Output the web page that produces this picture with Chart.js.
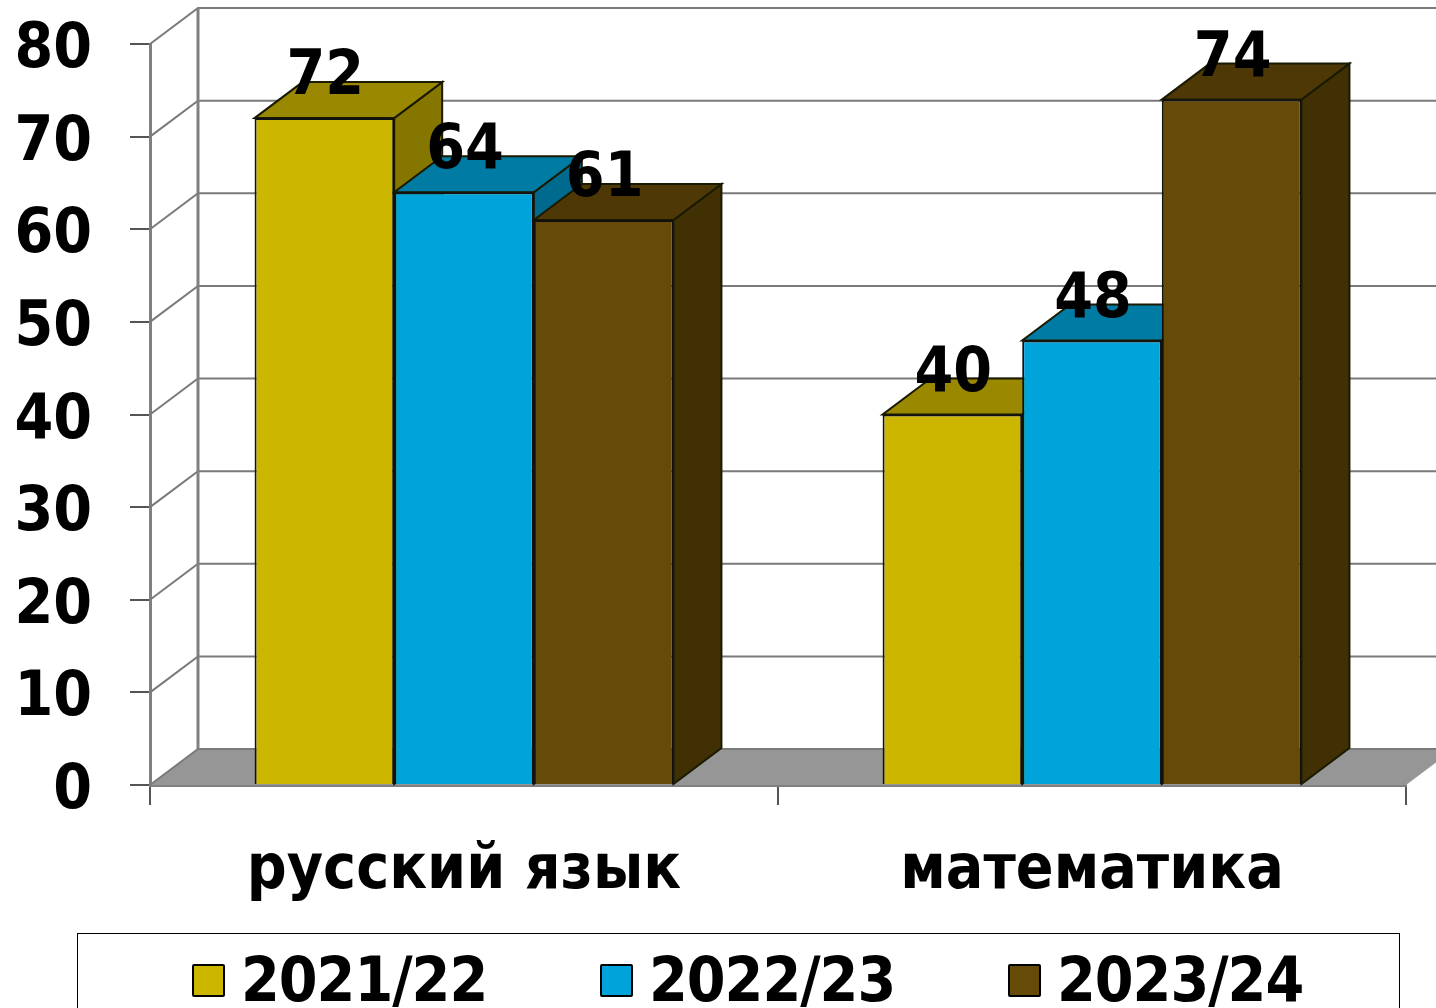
<!DOCTYPE html>
<html lang="ru">
<head>
  <meta charset="UTF-8">
  <title>Результаты по предметам</title>
  <script src="https://cdn.jsdelivr.net/npm/chart.js"></script>
  <style>
    html, body {
      margin: 0;
      height: 100%;
      overflow: hidden;
      background: #fff;
    }

    #wrap {
      position: relative;
      width: 1436px;
      height: 1008px;
      overflow: hidden;
    }

    canvas {
      position: absolute;
      left: 0;
      top: 0;
    }

    /* legend box runs off the bottom edge like in the picture */
    #legend {
      position: absolute;
      left: 77px;
      top: 933px;
      width: 1321px;
      height: 120px;
      border: 1px solid #000;
      font: bold 62px "DejaVu Sans Condensed", "DejaVu Sans", sans-serif;
      letter-spacing: -1px;
      color: #000;
    }

    .item {
      position: absolute;
      top: 11px;
      display: flex;
      align-items: center;
      line-height: 70px;
      white-space: nowrap;
    }

    .swatch {
      width: 29px;
      height: 29px;
      border: 2px solid #000;
      border-radius: 2px;
      margin-right: 16px;
    }
  </style>
</head>
<body>
  <div id="wrap">
    <canvas id="chart" width="1436" height="1008"></canvas>
    <div id="legend"></div>
  </div>

  <script>
    const categories = ['русский язык', 'математика'];
    const seriesNames = ['2021/22', '2022/23', '2023/24'];
    const values2122 = [72, 40];
    const values2223 = [64, 48];
    const values2324 = [61, 74];

    // front, top and side colours of each series
    const frontColors = ['#CDB600', '#00A3DA', '#664A08'];
    const topColors = ['#9A8900', '#007BA4', '#4D3806'];
    const sideColors = ['#857600', '#006A8E', '#423005'];

    const depthX = 48;
    const depthY = 36;
    const fontName = '"DejaVu Sans Condensed", "DejaVu Sans", sans-serif';

    function poly(ctx, pts, fill, stroke, lineWidth) {
      ctx.beginPath();
      pts.forEach((p, i) => i ? ctx.lineTo(p[0], p[1]) : ctx.moveTo(p[0], p[1]));
      ctx.closePath();
      if (fill) {
        ctx.fillStyle = fill;
        ctx.fill();
      }
      if (stroke) {
        ctx.strokeStyle = stroke;
        ctx.lineWidth = lineWidth;
        ctx.stroke();
      }
    }

    // back wall, side wall, floor and the depth faces of the bars
    const box3d = {
      id: 'box3d',
      beforeDatasetsDraw(chart) {
        const { ctx, chartArea, scales } = chart;
        const left = chartArea.left, right = chartArea.right, bottom = chartArea.bottom;
        const backTop = chartArea.top - depthY;
        ctx.save();

        // floor
        poly(ctx, [[left, bottom], [right, bottom], [right + depthX, bottom - depthY], [left + depthX, bottom - depthY]], '#969696');

        // grid on the walls
        ctx.strokeStyle = '#7A7A7A';
        ctx.lineWidth = 2;
        scales.y.ticks.forEach(t => {
          const y = scales.y.getPixelForValue(t.value);
          ctx.beginPath();
          ctx.moveTo(left, y);
          ctx.lineTo(left + depthX, y - depthY);
          ctx.lineTo(right + depthX, y - depthY);
          ctx.stroke();
        });
        ctx.lineWidth = 3;
        ctx.strokeStyle = '#808080';
        ctx.beginPath();
        ctx.moveTo(left + depthX, backTop);
        ctx.lineTo(left + depthX, bottom - depthY);
        ctx.stroke();

        // depth faces, in series order so the later bars cover the earlier ones
        chart.data.datasets.forEach((ds, d) => {
          chart.getDatasetMeta(d).data.forEach(bar => {
            const x0 = bar.x - bar.width / 2, x1 = bar.x + bar.width / 2;
            const top = bar.y, base = bar.base;
            poly(ctx, [[x1, base], [x1, top], [x1 + depthX, top - depthY], [x1 + depthX, base - depthY]], sideColors[d], '#1A1A00', 2);
            poly(ctx, [[x0, top], [x1, top], [x1 + depthX, top - depthY], [x0 + depthX, top - depthY]], topColors[d], '#1A1A00', 2);
          });
        });
        ctx.restore();
      },
      afterDatasetsDraw(chart) {
        // value labels sit over the top faces
        const { ctx } = chart;
        ctx.save();
        ctx.font = 'bold 62px ' + fontName;
        ctx.fillStyle = '#000';
        ctx.textAlign = 'center';
        ctx.textBaseline = 'middle';
        chart.data.datasets.forEach((ds, d) => {
          chart.getDatasetMeta(d).data.forEach((bar, i) => {
            ctx.fillText(ds.data[i], bar.x + 1, bar.y - 40);
          });
        });
        ctx.restore();
      }
    };

    const chart = new Chart(document.getElementById('chart'), {
      type: 'bar',
      data: {
        labels: categories,
        datasets: [values2122, values2223, values2324].map((vals, i) => ({
          label: seriesNames[i],
          data: vals,
          backgroundColor: frontColors[i],
          borderColor: '#111',
          borderWidth: 2,
          barPercentage: 1,
          categoryPercentage: 0.667
        }))
      },
      options: {
        responsive: false,
        animation: false,
        layout: { padding: { top: 44, right: 30 } },
        plugins: { legend: { display: false }, tooltip: { enabled: false } },
        scales: {
          x: {
            afterFit: s => { s.height = 223; },
            grid: { offset: true, drawOnChartArea: false, tickLength: 20, tickColor: '#555', lineWidth: 2 },
            border: { color: '#808080', width: 3 },
            ticks: {
              color: '#000',
              padding: 30,
              maxRotation: 0,
              font: { family: fontName, size: 62, weight: 'bold' }
            }
          },
          y: {
            min: 0,
            max: 80,
            // fixed gutter, and no extra room reserved for the end labels
            afterFit: s => {
              s.width = 150;
              s.paddingTop = 0;
              s.paddingBottom = 0;
            },
            grid: { drawOnChartArea: false, tickLength: 20, tickColor: '#555', lineWidth: 2 },
            border: { color: '#808080', width: 3 },
            ticks: {
              stepSize: 10,
              color: '#000',
              padding: 38,
              autoSkip: false,
              // empty first line with a 14px line height drops the label 7px below its tick
              callback: v => ['', String(v)],
              font: { family: fontName, size: 62, weight: 'bold', lineHeight: '14px' }
            }
          }
        }
      },
      plugins: [box3d]
    });

    // legend built from the chart's own datasets
    const legendBox = document.getElementById('legend');
    chart.data.datasets.forEach((ds, i) => {
      const item = document.createElement('div');
      item.className = 'item';
      item.style.left = (114 + i * 408) + 'px';
      const swatch = document.createElement('span');
      swatch.className = 'swatch';
      swatch.style.background = ds.backgroundColor;
      item.appendChild(swatch);
      item.appendChild(document.createTextNode(ds.label));
      legendBox.appendChild(item);
    });
  </script>
</body>
</html>
